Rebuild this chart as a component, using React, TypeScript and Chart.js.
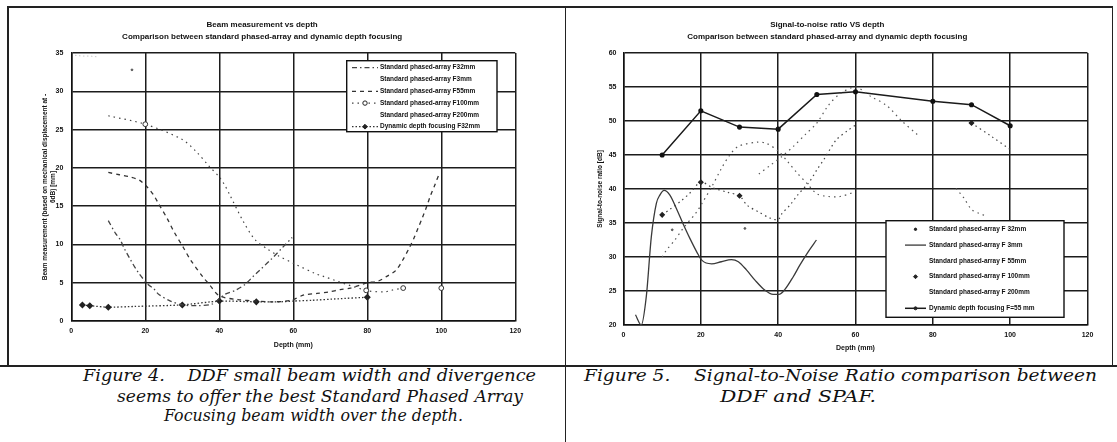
import React, { useEffect, useLayoutEffect, useRef } from "react";
import { Chart, registerables } from "chart.js";

Chart.register(...registerables);

// ---------- Figure 4 : beam measurement vs depth ----------
const beamTitle = [
  "Beam measurement vs depth",
  "Comparison between standard phased-array and dynamic depth focusing",
];
const beamYTitle = [
  "Beam measurement (based on mechanical displacement at -",
  "6dB) [mm]",
];
const beamLabels = [
  "Standard phased-array F32mm",
  "Standard phased-array F3mm",
  "Standard phased-array F55mm",
  "Standard phased-array F100mm",
  "Standard phased-array F200mm",
  "Dynamic depth focusing F32mm",
];
const beamF32X = [10, 12, 13, 14.4, 16, 18, 20.7, 22.3, 23.6, 26.8, 30, 34, 38, 40, 41.6, 44.3, 47, 49.3, 51.5, 53.9, 56.9, 59.7];
const beamF32Y = [13.1, 11.4, 10.8, 9.4, 8, 6.4, 4.8, 4.2, 3.5, 2.6, 2.1, 2.0, 2.2, 2.9, 3.5, 4, 4.8, 5.9, 6.9, 8.0, 9.5, 10.9];
const beamF3X = [1, 3, 5, 7];
const beamF3Y = [34.7, 34.6, 34.6, 34.5];
const beamF55X = [10, 13, 16, 18.4, 20.5, 22.3, 23.6, 25.9, 27.7, 30.4, 32.2, 35.8, 37.1, 40, 45, 50, 54.8, 59.3, 62.9, 66.4, 69.6, 72.7, 75.4, 78.1, 80, 82.9, 85.5, 87.7, 89.5, 91.3, 92.6, 93.7, 94.9, 96, 97.1, 98.2, 99.5];
const beamF55Y = [19.4, 19.1, 18.8, 18.4, 17.5, 16.4, 15.3, 13.4, 11.7, 9.5, 8, 5.6, 4.9, 3.3, 2.8, 2.6, 2.5, 2.7, 3.4, 3.6, 3.8, 4.1, 4.3, 4.7, 5, 5.2, 5.9, 6.6, 7.9, 9.5, 10.8, 12.1, 13.5, 14.9, 16.4, 17.7, 19.3];
const beamF100X = [10, 20, 30, 34, 37.1, 40, 41.4, 42.8, 46.6, 49.7, 53, 56, 60.2, 65.9, 67.7, 79.7, 84.6, 86.4, 89.7, 95, 100];
const beamF100Y = [26.8, 25.7, 23.7, 22, 20.3, 18.8, 17.8, 16.5, 12.9, 10.6, 9.4, 8.5, 7.5, 6.2, 5.9, 4.0, 3.8, 4.0, 4.3, null, 4.3];
const beamF100Marked = [20, 79.7, 89.7, 100];
const beamF200X = [16.4];
const beamF200Y = [32.8];
const beamDdfX = [3, 5, 10, 17, 30, 40, 50, 56, 60, 65, 72, 80];
const beamDdfY = [2.1, 2.0, 1.8, 1.9, 2.1, 2.6, 2.5, 2.5, 2.6, 2.7, 2.9, 3.1];
const beamDdfMarked = [3, 5, 10, 30, 40, 50, 80];

// ---------- Figure 5 : signal-to-noise ratio vs depth ----------
const snrTitle = [
  "Signal-to-noise ratio VS depth",
  "Comparison between standard phased-array and dynamic depth focusing",
];
const snrYTitle = "Signal-to-noise ratio [dB]";
const snrLabels = [
  "Standard phased-array F 32mm",
  "Standard phased-array F 3mm",
  "Standard phased-array F 55mm",
  "Standard phased-array F 100mm",
  "Standard phased-array F 200mm",
  "Dynamic depth focusing F=55 mm",
];
const snrF32X = [10, 11.1, 13.3, 15.4, 18.9, 20.3, 22.8, 25.3, 27.5, 29.8, 34.8, 37, 40, 42.5, 45, 47.5, 50, 53, 56, 59, 70, 86, 88, 90, 92, 94];
const snrF32Y = [30, 31, 32.5, 34.2, 36.6, 37.9, 40.3, 43, 45, 46.3, 46.9, 46.7, 45.6, 44, 42.3, 40.8, 39.3, 38.9, 38.9, 39.4, null, 40.1, 38.7, 37, 36.4, 36];
const snrF3X = [3.1, 4.6, 5.9, 7.2, 8.5, 9.4, 10.5, 12, 13.7, 15.4, 17.2, 18.9, 20.3, 22.8, 25.3, 27.9, 29.7, 31.8, 34, 36.6, 38.7, 40.2, 41.7, 43.9, 45.6, 47.8, 49.9];
const snrF3Y = [21.5, 20, 24.2, 33, 37.9, 39.1, 39.8, 39.1, 37.1, 34.9, 32.7, 30.8, 29.5, 29, 29.3, 29.6, 29.3, 28.1, 26.6, 25.1, 24.5, 24.5, 25.2, 27.1, 28.8, 30.8, 32.5];
const snrF55X = [35, 38, 41, 44, 47, 50, 53, 56, 60, 64, 68, 72, 76];
const snrF55Y = [42.2, 43.5, 44.8, 46.3, 48, 49.7, 52.3, 54, 55, 53.6, 52.3, 50, 48];
const snrF100X = [10, 12, 15, 17, 20, 23, 27, 30, 32, 35, 38, 40, 41, 43, 45, 48, 50, 52, 55, 58, 60, 75, 90, 95, 100];
const snrF100Y = [36.2, 37, 38.3, 39.3, 41, 40.2, 39.5, 39, 37.6, 36.6, 35.7, 35.5, 36.4, 37.6, 39.1, 41, 42.8, 44.5, 47.2, 48.6, 49.4, null, 49.7, 47.8, 45.8];
const snrF100Marked = [10, 20, 30, 90];
const snrF200X = [12.6, 31.4];
const snrF200Y = [34, 34.2];
const snrDdfX = [10, 20, 30, 40, 50, 60, 80, 90, 100];
const snrDdfY = [45, 51.5, 49.1, 48.8, 53.9, 54.3, 52.9, 52.4, 49.3];

const xTickStep = 20;

// ---------- captions ----------
const caption4 = [
  "Figure 4.    DDF small beam width and divergence",
  "seems to offer the best Standard Phased Array",
  "Focusing beam width over the depth.",
];
const caption5 = [
  "Figure 5.    Signal-to-Noise Ratio comparison between",
  "DDF and SPAF.",
];

const SANS = "'Liberation Sans', Arial, sans-serif";

function pts(xs: number[], ys: (number | null)[]) {
  return xs.map((x, i) => ({ x, y: ys[i] }));
}
function radii(xs: number[], marked: number[], r: number) {
  return xs.map((x) => (marked.includes(x) ? r : 0));
}

function drawMarker(ctx: CanvasRenderingContext2D, kind: string, x: number, y: number, r: number, color: string, fill: string) {
  ctx.save();
  ctx.setLineDash([]);
  ctx.lineWidth = 1;
  ctx.strokeStyle = color;
  ctx.fillStyle = fill;
  ctx.beginPath();
  if (kind === "diamond") {
    ctx.moveTo(x, y - r);
    ctx.lineTo(x + r, y);
    ctx.lineTo(x, y + r);
    ctx.lineTo(x - r, y);
    ctx.closePath();
  } else {
    ctx.arc(x, y, r, 0, Math.PI * 2);
  }
  ctx.fill();
  ctx.stroke();
  ctx.restore();
}

const boxLegend = {
  id: "boxLegend",
  afterDraw(chart: any, _args: any, opts: any) {
    if (!opts || !opts.display) return;
    const ctx: CanvasRenderingContext2D = chart.ctx;
    const { x, y, w, h, rowY, rowGap, symX0, symX1, textX, font } = opts;
    ctx.save();
    ctx.fillStyle = "#fff";
    ctx.fillRect(x, y, w, h);
    ctx.lineWidth = 1.4;
    ctx.strokeStyle = "#111";
    ctx.setLineDash([]);
    ctx.strokeRect(x, y, w, h);
    chart.data.datasets.forEach((ds: any, i: number) => {
      const cy = rowY + i * rowGap;
      if (ds.legendLine) {
        ctx.beginPath();
        ctx.setLineDash(ds.borderDash || []);
        ctx.strokeStyle = ds.borderColor;
        ctx.lineWidth = ds.borderWidth;
        ctx.moveTo(symX0, cy);
        ctx.lineTo(symX1, cy);
        ctx.stroke();
        ctx.setLineDash([]);
      }
      if (ds.legendMarker) {
        drawMarker(ctx, ds.legendMarker, (symX0 + symX1) / 2, cy, ds.legendMarkerSize || 2, "#222", ds.legendMarkerFill || "#222");
      }
      ctx.fillStyle = "#111";
      ctx.font = font;
      ctx.textBaseline = "middle";
      ctx.textAlign = "left";
      ctx.fillText(ds.label, textX, cy);
    });
    ctx.restore();
  },
};

function axisCommon() {
  return {
    grid: { color: "#1c1c1c", lineWidth: 1.5, drawTicks: false },
    border: { color: "#111", width: 1.5 },
  };
}

function makeBeamConfig(): any {
  return {
    type: "line",
    data: {
      datasets: [
        {
          label: beamLabels[0],
          data: pts(beamF32X, beamF32Y),
          borderColor: "#444",
          borderWidth: 1.3,
          borderDash: [5, 3, 1.5, 3],
          pointRadius: 0,
          tension: 0.3,
          legendLine: true,
        },
        {
          label: beamLabels[1],
          data: pts(beamF3X, beamF3Y),
          borderColor: "#c8c8c8",
          borderWidth: 1,
          borderDash: [1.5, 2.5],
          pointRadius: 0,
        },
        {
          label: beamLabels[2],
          data: pts(beamF55X, beamF55Y),
          borderColor: "#333",
          borderWidth: 1.3,
          borderDash: [4, 4],
          pointRadius: 0,
          tension: 0.3,
          legendLine: true,
        },
        {
          label: beamLabels[3],
          data: pts(beamF100X, beamF100Y),
          borderColor: "#444",
          borderWidth: 1.2,
          borderDash: [1.5, 4],
          pointStyle: "circle",
          pointRadius: radii(beamF100X, beamF100Marked, 2.4),
          pointBackgroundColor: "#fff",
          pointBorderColor: "#333",
          pointBorderWidth: 1,
          tension: 0.3,
          legendLine: true,
          legendMarker: "circle",
          legendMarkerFill: "#fff",
          legendMarkerSize: 2.2,
        },
        {
          label: beamLabels[4],
          data: pts(beamF200X, beamF200Y),
          borderColor: "#555",
          borderWidth: 1,
          pointRadius: 0.9,
          pointBackgroundColor: "#555",
          pointBorderColor: "#555",
          showLine: false,
        },
        {
          label: beamLabels[5],
          data: pts(beamDdfX, beamDdfY),
          borderColor: "#333",
          borderWidth: 1.3,
          borderDash: [1.5, 2],
          pointStyle: "rectRot",
          pointRadius: radii(beamDdfX, beamDdfMarked, 2.6),
          pointBackgroundColor: "#222",
          pointBorderColor: "#222",
          tension: 0.2,
          legendLine: true,
          legendMarker: "diamond",
          legendMarkerSize: 2.4,
        },
      ],
    },
    options: {
      responsive: false,
      animation: false,
      events: [],
      layout: { padding: { left: 0, right: 48.7, top: 0, bottom: 0 } },
      plugins: {
        legend: { display: false },
        tooltip: { enabled: false },
        title: {
          display: true,
          text: beamTitle,
          color: "#111",
          font: { family: SANS, size: 8, weight: "bold", lineHeight: 1.45 },
          padding: { top: 11, bottom: 10.8 },
        },
        boxLegend: {
          display: true,
          x: 337.7,
          y: 52.7,
          w: 150.3,
          h: 71,
          rowY: 59.7,
          rowGap: 11.8,
          symX0: 343,
          symX1: 369,
          textX: 371,
          font: `bold 6.5px ${SANS}`,
        },
      },
      scales: {
        x: {
          type: "linear",
          min: 0,
          max: 120,
          ...axisCommon(),
          ticks: { stepSize: xTickStep, color: "#111", font: { family: SANS, size: 7, weight: "bold" }, padding: 6, maxRotation: 0 },
          title: { display: true, text: "Depth (mm)", color: "#111", font: { family: SANS, size: 7, weight: "bold", lineHeight: 1.2 }, padding: { top: 0, bottom: 15.8 } },
          afterFit(s: any) {
            s.height = 44;
          },
        },
        y: {
          type: "linear",
          min: 0,
          max: 35,
          ...axisCommon(),
          ticks: { stepSize: 5, color: "#111", font: { family: SANS, size: 7, weight: "bold" }, padding: 8 },
          title: { display: true, text: beamYTitle, color: "#111", font: { family: SANS, size: 6.5, weight: "bold", lineHeight: 1.1 }, padding: { top: 33, bottom: 0 } },
          afterFit(s: any) {
            s.width = 62.3;
          },
        },
      },
    },
    plugins: [boxLegend],
  };
}

function makeSnrConfig(): any {
  return {
    type: "line",
    data: {
      datasets: [
        {
          label: snrLabels[0],
          data: pts(snrF32X, snrF32Y),
          borderColor: "#555",
          borderWidth: 1.2,
          borderDash: [1.5, 4],
          pointRadius: 0,
          tension: 0.3,
          legendMarker: "circle",
          legendMarkerSize: 1.2,
        },
        {
          label: snrLabels[1],
          data: pts(snrF3X, snrF3Y),
          borderColor: "#3a3a3a",
          borderWidth: 1.3,
          pointRadius: 0,
          cubicInterpolationMode: "monotone",
          legendLine: true,
        },
        {
          label: snrLabels[2],
          data: pts(snrF55X, snrF55Y),
          borderColor: "#5a5a5a",
          borderWidth: 1.2,
          borderDash: [1.5, 4],
          pointRadius: 0,
          tension: 0.3,
        },
        {
          label: snrLabels[3],
          data: pts(snrF100X, snrF100Y),
          borderColor: "#444",
          borderWidth: 1.2,
          borderDash: [1.5, 3.5],
          pointStyle: "rectRot",
          pointRadius: radii(snrF100X, snrF100Marked, 2.2),
          pointBackgroundColor: "#222",
          pointBorderColor: "#222",
          tension: 0.3,
          legendMarker: "diamond",
          legendMarkerSize: 2,
        },
        {
          label: snrLabels[4],
          data: pts(snrF200X, snrF200Y),
          borderColor: "#666",
          borderWidth: 1,
          pointRadius: 0.9,
          pointBackgroundColor: "#555",
          pointBorderColor: "#555",
          showLine: false,
        },
        {
          label: snrLabels[5],
          data: pts(snrDdfX, snrDdfY),
          borderColor: "#1a1a1a",
          borderWidth: 1.5,
          pointStyle: "circle",
          pointRadius: 1.8,
          pointBackgroundColor: "#111",
          pointBorderColor: "#111",
          tension: 0,
          legendLine: true,
          legendMarker: "circle",
          legendMarkerSize: 1.5,
        },
      ],
    },
    options: {
      responsive: false,
      animation: false,
      events: [],
      layout: { padding: { left: 0, right: 23.5, top: 0, bottom: 0 } },
      plugins: {
        legend: { display: false },
        tooltip: { enabled: false },
        title: {
          display: true,
          text: snrTitle,
          color: "#111",
          font: { family: SANS, size: 8, weight: "bold", lineHeight: 1.45 },
          padding: { top: 11, bottom: 10.8 },
        },
        boxLegend: {
          display: true,
          x: 319,
          y: 212.7,
          w: 178,
          h: 96.6,
          rowY: 221.3,
          rowGap: 15.8,
          symX0: 338,
          symX1: 359,
          textX: 362,
          font: `bold 6.5px ${SANS}`,
        },
      },
      scales: {
        x: {
          type: "linear",
          min: 0,
          max: 120,
          ...axisCommon(),
          ticks: { stepSize: xTickStep, color: "#111", font: { family: SANS, size: 7, weight: "bold" }, padding: 6, maxRotation: 0 },
          title: { display: true, text: "Depth (mm)", color: "#111", font: { family: SANS, size: 7, weight: "bold", lineHeight: 1.2 }, padding: { top: 0, bottom: 12.8 } },
          afterFit(s: any) {
            s.height = 40;
          },
        },
        y: {
          type: "linear",
          min: 20,
          max: 60,
          ...axisCommon(),
          ticks: { stepSize: 5, color: "#111", font: { family: SANS, size: 7, weight: "bold" }, padding: 7 },
          title: { display: true, text: snrYTitle, color: "#111", font: { family: SANS, size: 6.5, weight: "bold", lineHeight: 1.1 }, padding: { top: 29.5, bottom: 0 } },
          afterFit(s: any) {
            s.width = 56.5;
          },
        },
      },
    },
    plugins: [boxLegend],
  };
}

function ChartCanvas({ make, left, top, width, height }: { make: () => any; left: number; top: number; width: number; height: number }) {
  const ref = useRef<HTMLCanvasElement | null>(null);
  useEffect(() => {
    if (!ref.current) return;
    const chart = new Chart(ref.current, make());
    return () => chart.destroy();
  }, [make]);
  return (
    <canvas
      ref={ref}
      width={width}
      height={height}
      style={{ position: "absolute", left, top, width, height, display: "block" }}
    />
  );
}

const capFont: React.CSSProperties = {
  position: "absolute",
  fontFamily: "'DejaVu Serif', serif",
  fontStyle: "italic",
  fontSize: 17,
  color: "#111",
  whiteSpace: "pre",
  lineHeight: "20px",
  display: "inline-block",
  transformOrigin: "left top",
};

// Caption line fitted horizontally to the span it takes in the reference
function FitLine({ text, left, right, top }: { text: string; left: number; right: number; top: number }) {
  const ref = useRef<HTMLSpanElement | null>(null);
  useLayoutEffect(() => {
    const el = ref.current;
    if (!el) return;
    const w = el.getBoundingClientRect().width;
    if (w > 0) el.style.transform = `scaleX(${(right - left) / w})`;
  }, [text, left, right]);
  return (
    <span ref={ref} style={{ ...capFont, left, top }}>
      {text}
    </span>
  );
}

export default function App() {
  const line = "#222";
  return (
    <div style={{ position: "absolute", left: 0, top: 0, width: 1117, height: 442, background: "#fff", overflow: "hidden" }}>
      <ChartCanvas make={makeBeamConfig} left={9} top={8} width={555} height={357} />
      <ChartCanvas make={makeSnrConfig} left={567} top={8} width={544} height={357} />
      {/* frames */}
      <div style={{ position: "absolute", left: 7, top: 6, width: 1106, height: 1.6, background: line }} />
      <div style={{ position: "absolute", left: 7, top: 6, width: 1.6, height: 360, background: line }} />
      <div style={{ position: "absolute", left: 1111.5, top: 6, width: 1.6, height: 360, background: line }} />
      <div style={{ position: "absolute", left: 564.5, top: 6, width: 1.8, height: 436, background: line }} />
      <div style={{ position: "absolute", left: 0, top: 364.5, width: 1117, height: 2, background: line }} />
      {/* captions */}
      <FitLine text={caption4[0]} left={83} right={536} top={365} />
      <FitLine text={caption4[1]} left={117} right={523} top={386} />
      <FitLine text={caption4[2]} left={164} right={463} top={405} />
      <FitLine text={caption5[0]} left={584} right={1097} top={365} />
      <FitLine text={caption5[1]} left={720} right={876} top={386} />
    </div>
  );
}
